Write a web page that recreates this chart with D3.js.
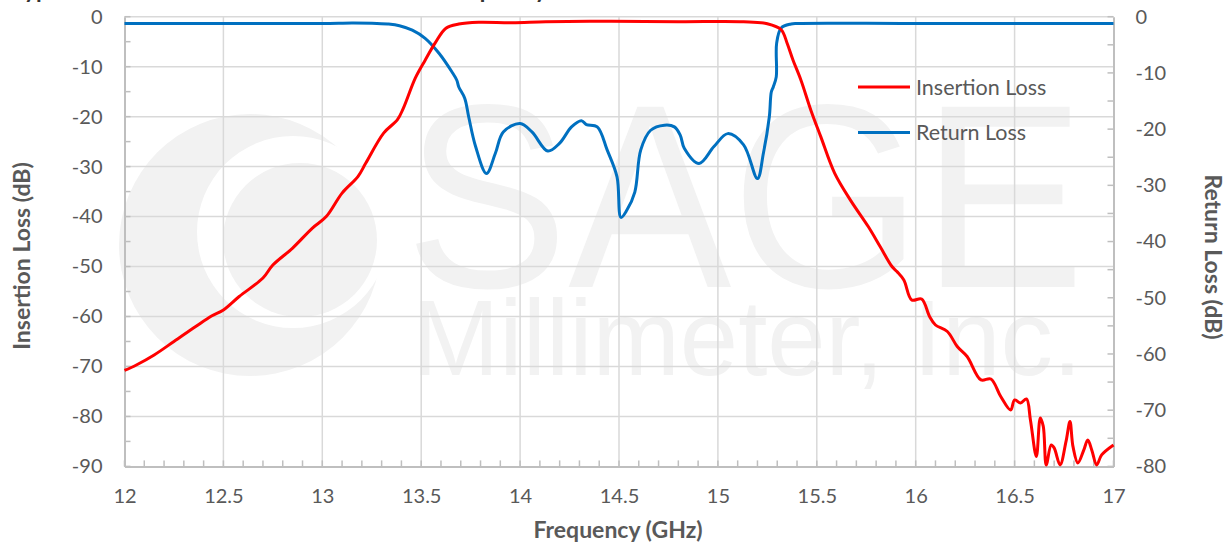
<!DOCTYPE html>
<html><head><meta charset="utf-8">
<script src="https://cdn.jsdelivr.net/npm/d3@7/dist/d3.min.js"></script>
<style>body{margin:0;background:#fff;}svg{display:block;font-family:Lato,"Open Sans",sans-serif;}</style>
</head><body>
<svg id="c" width="1230" height="546"></svg>
<script>
const chartTitle = "Typical Insertion Loss and Return Loss vs. Frequency";
const xTicks = [12, 12.5, 13, 13.5, 14, 14.5, 15, 15.5, 16, 16.5, 17];
const leftTicks = [0, -10, -20, -30, -40, -50, -60, -70, -80, -90];
const rightTicks = [0, -10, -20, -30, -40, -50, -60, -70, -80];
const seriesNames = ["Insertion Loss", "Return Loss"];

const ilFreq = [12.00,12.06,12.15,12.25,12.36,12.44,12.50,12.58,12.70,12.75,12.85,12.95,13.02,13.10,13.18,13.22,13.31,13.38,13.41,13.47,13.52,13.57,13.625,13.69,13.79,13.96,14.13,14.46,14.80,15.13,15.25,15.32,15.35,15.38,15.42,15.47,15.52,15.59,15.67,15.76,15.82,15.88,15.905,15.94,15.98,16.03,16.07,16.10,16.16,16.21,16.26,16.33,16.38,16.43,16.48,16.50,16.53,16.56,16.58,16.61,16.63,16.645,16.66,16.685,16.70,16.73,16.76,16.78,16.795,16.82,16.85,16.87,16.89,16.915,16.94,17.0];
const ilValues = [-70.8,-69.7,-67.7,-65.0,-62.0,-59.9,-58.7,-56.0,-52.3,-49.7,-46.3,-42.3,-40.0,-35.3,-32.0,-29.3,-23.3,-20.6,-18.3,-12.3,-8.7,-5.3,-2.3,-1.46,-1.1,-1.2,-1.0,-0.9,-1.0,-1.0,-1.4,-2.6,-5.3,-8.7,-12.7,-18.7,-24.0,-31.3,-36.7,-42.0,-46.0,-50.0,-51.0,-52.7,-56.7,-56.5,-60.0,-61.7,-63.0,-66.0,-68.0,-72.7,-72.5,-76.0,-78.7,-76.7,-77.3,-76.5,-80.7,-88.0,-80.3,-82.0,-89.7,-85.7,-86.3,-89.7,-85.0,-81.0,-86.0,-89.3,-86.7,-84.7,-86.7,-89.7,-87.7,-85.7];

const rlFreq = [12.0,12.5,13.0,13.15,13.25,13.33,13.39,13.455,13.52,13.59,13.655,13.68,13.69,13.72,13.74,13.775,13.83,13.875,13.915,14.0,14.06,14.14,14.20,14.26,14.31,14.335,14.39,14.44,14.49,14.51,14.54,14.58,14.61,14.66,14.73,14.78,14.81,14.83,14.905,14.98,15.05,15.13,15.20,15.23,15.26,15.27,15.28,15.295,15.297,15.32,15.37,15.40,16.0,17.0];
const rlValues = [-1.2,-1.2,-1.2,-1.1,-1.15,-1.3,-1.6,-2.4,-3.85,-6.5,-9.8,-11.3,-12.5,-14.5,-17.8,-23.1,-27.9,-24.3,-20.5,-19.0,-20.5,-23.9,-22.5,-19.6,-18.5,-19.2,-19.6,-23.7,-28.5,-35.7,-34.4,-31.2,-23.7,-20.2,-19.3,-19.6,-21.1,-23.4,-26.1,-23.1,-20.8,-22.8,-28.8,-24.3,-17.8,-13.4,-12.5,-10.7,-4.7,-2.0,-1.3,-1.2,-1.2,-1.2];

const svg = d3.select("#c");
const L = 124.5, R = 1113.5, T = 16.7, B = 466.4;
const x = d3.scaleLinear().domain([12, 17]).range([L, R]);
const yL = d3.scaleLinear().domain([-90, 0]).range([B, T]);
const yR = d3.scaleLinear().domain([-80, 0]).range([B, T]);
const grey = "#595959";

// title (clipped at the top edge, as in the reference)
svg.append("text").attr("x", 12).attr("y", -2).attr("font-size", 24).attr("font-weight", "bold")
  .attr("textLength", 535).attr("lengthAdjust", "spacingAndGlyphs")
  .attr("fill", "#333").text(chartTitle);

// watermark
const wm = svg.append("g").attr("fill", "#f2f2f2");
wm.append("circle").attr("cx", 250).attr("cy", 245).attr("r", 131);
wm.append("circle").attr("cx", 293).attr("cy", 232).attr("r", 96).attr("fill", "#fff");
wm.append("circle").attr("cx", 300).attr("cy", 240).attr("r", 77);
wm.append("text").attr("x", 405).attr("y", 287).attr("font-size", 262).attr("font-family", "'Liberation Sans',Arial,sans-serif")
  .attr("textLength", 680).attr("lengthAdjust", "spacingAndGlyphs").text("SAGE");
wm.append("text").attr("x", 412).attr("y", 375).attr("font-size", 108).attr("font-family", "'Liberation Sans',Arial,sans-serif")
  .attr("textLength", 670).attr("lengthAdjust", "spacingAndGlyphs").text("Millimeter, Inc.");

// gridlines
const grid = svg.append("g").attr("stroke", "#d9d9d9").attr("stroke-width", 1.5);
grid.selectAll(".h").data(leftTicks.filter(d => d > -90)).join("line")
  .attr("x1", L).attr("x2", R).attr("y1", d => yL(d)).attr("y2", d => yL(d));
grid.selectAll(".v").data(xTicks.filter(d => d > 12 && d < 17)).join("line")
  .attr("x1", d => x(d)).attr("x2", d => x(d)).attr("y1", T).attr("y2", B);

// axes
const fmt = d => String(d);
const axL = d3.axisLeft(yL).tickValues(leftTicks).tickSize(0).tickPadding(22).tickFormat(fmt);
const axR = d3.axisRight(yR).tickValues(rightTicks).tickSize(0).tickPadding(22).tickFormat(fmt);
const axB = d3.axisBottom(x).tickValues(xTicks).tickSize(0).tickPadding(28).tickFormat(fmt);
function styleAxis(g) {
  g.select(".domain").attr("stroke", "#bfbfbf").attr("stroke-width", 2);
  g.selectAll("text").attr("fill", grey).attr("font-size", 20).attr("font-family", "Lato,sans-serif");
}
svg.append("g").attr("transform", `translate(${L},0)`).call(axL).call(styleAxis);
svg.append("g").attr("transform", `translate(${R},0)`).call(axR).call(styleAxis);
svg.append("g").attr("transform", `translate(0,${B})`).call(axB).call(styleAxis)
  .selectAll("text").attr("dy", "0.45em");

// minor ticks
const mt = svg.append("g").attr("stroke", "#bfbfbf").attr("stroke-width", 1.5);
mt.selectAll(".ml").data(d3.range(0, -91, -5)).join("line")
  .attr("x1", L).attr("x2", L + 6).attr("y1", d => yL(d)).attr("y2", d => yL(d));
mt.selectAll(".mr").data(d3.range(0, -81, -5)).join("line")
  .attr("x1", R - 6).attr("x2", R).attr("y1", d => yR(d)).attr("y2", d => yR(d));
mt.selectAll(".mb").data(d3.range(12, 17.001, 0.1)).join("line")
  .attr("x1", d => x(d)).attr("x2", d => x(d)).attr("y1", B - 6).attr("y2", B);

// axis titles
svg.append("text").attr("transform", "translate(30,256) rotate(-90)").attr("text-anchor", "middle")
  .attr("font-size", 23).attr("font-weight", "bold").attr("fill", grey).text("Insertion Loss (dB)");
svg.append("text").attr("transform", "translate(1205,257) rotate(90)").attr("text-anchor", "middle")
  .attr("font-size", 23).attr("font-weight", "bold").attr("fill", grey).text("Return Loss (dB)");
svg.append("text").attr("x", 618).attr("y", 538).attr("text-anchor", "middle")
  .attr("font-size", 23).attr("font-weight", "bold").attr("fill", grey).text("Frequency (GHz)");

// lines
const il = ilFreq.map((f, i) => [f, ilValues[i]]);
const rl = rlFreq.map((f, i) => [f, rlValues[i]]);
const lineL = d3.line().x(d => x(d[0])).y(d => yL(d[1])).curve(d3.curveCatmullRom.alpha(0.5));
const lineR = d3.line().x(d => x(d[0])).y(d => yR(d[1])).curve(d3.curveCatmullRom.alpha(0.5));
svg.append("path").datum(rl).attr("d", lineR).attr("fill", "none").attr("stroke", "#0070c0").attr("stroke-width", 3).attr("stroke-linejoin", "round");
svg.append("path").datum(il).attr("d", lineL).attr("fill", "none").attr("stroke", "#ff0000").attr("stroke-width", 3).attr("stroke-linejoin", "round");

// legend
const colors = ["#ff0000", "#0070c0"];
const lg = svg.append("g");
seriesNames.forEach((n, i) => {
  const yy = 87 + i * 45.5;
  lg.append("line").attr("x1", 858).attr("x2", 910).attr("y1", yy).attr("y2", yy).attr("stroke", colors[i]).attr("stroke-width", 3);
  lg.append("text").attr("x", 916).attr("y", yy).attr("dy", "0.35em").attr("font-size", 21.5).attr("fill", grey).text(n);
});
</script>
</body></html>
